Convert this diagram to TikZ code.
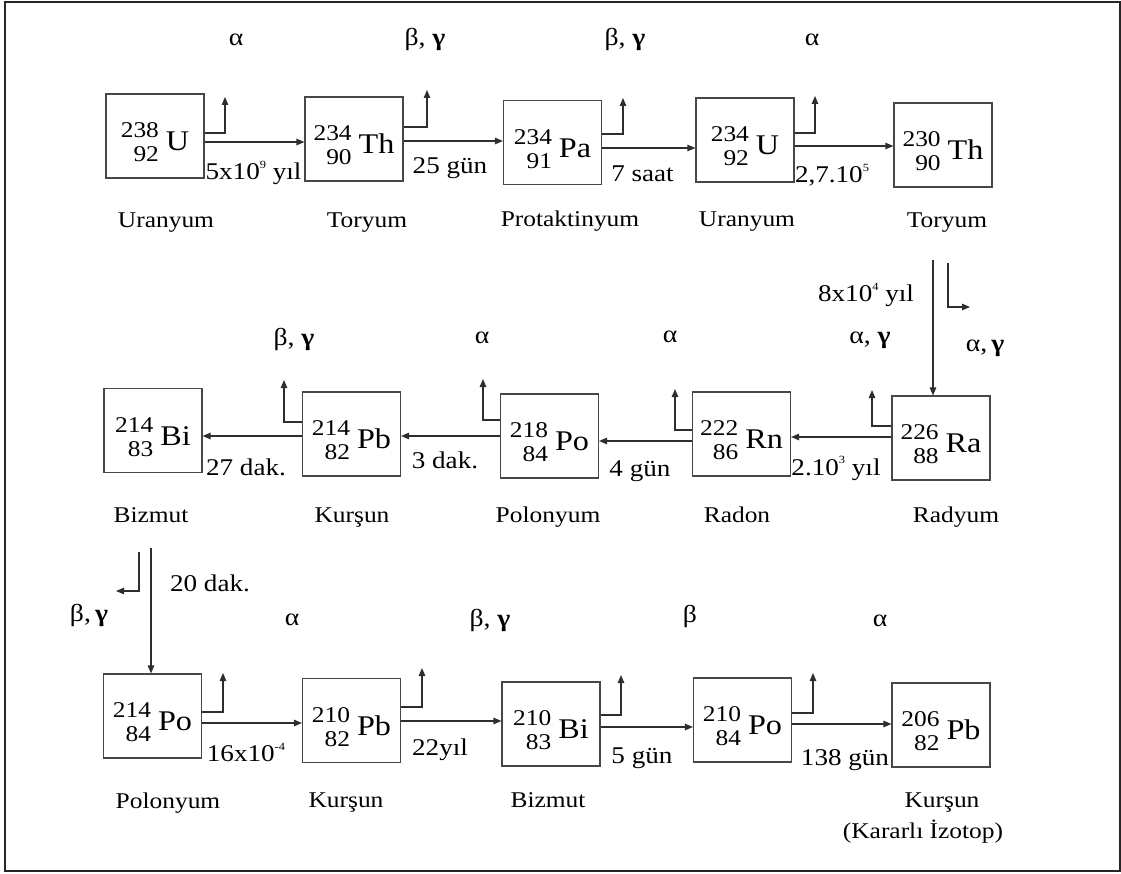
\documentclass[tikz,border=0pt]{standalone}
\usepackage{fontspec}
\setmainfont[FakeStretch=1.13]{Liberation Serif}
\usetikzlibrary{arrows.meta}
\newcommand\nuc[3]{\raisebox{-11pt}{\fontsize{22.5}{24}\selectfont\begin{tabular}[b]{@{}r@{}}#1\\#2\end{tabular}}\hspace{7pt}{\fontsize{28.5}{28}\selectfont #3}}
\newcommand\ssup[1]{\raisebox{1.0ex}{\fontsize{11}{11}\selectfont #1}}
\newcommand\bg{\textbf{γ}}
\tikzset{
  nucbox/.style={draw=black!72, line width=1.1pt, minimum width=98pt, minimum height=84pt, inner sep=0pt},
  nuctext/.style={inner sep=0pt},
  decay/.style={draw=black!82, line width=1.1pt, -{Triangle[length=8pt,width=6.5pt]}},
  tlabel/.style={font=\fontsize{24}{24}\selectfont, inner sep=0pt, anchor=base},
  elname/.style={font=\fontsize{22.5}{22.5}\selectfont, inner sep=0pt, anchor=base},
  rad/.style={font=\fontsize{24.5}{24}\selectfont, inner sep=0pt, anchor=base}
}
% \iso{name}{x}{y}{A}{Z}{symbol}
\newcommand\iso[6]{%
  \node[nucbox] (#1) at (#2,#3) {};
  \node[nuctext] (#1t) at ([yshift=-9pt]#1.center) {\nuc{#4}{#5}{#6}};
}
\begin{document}
\begin{tikzpicture}[x=1pt,y=-1pt]
\useasboundingbox (0,0) rectangle (1121,874);
\draw[line width=2pt, black!85] (5,2) rectangle (1119.5,871);

% ---------- row 1
\iso{u238}{155}{136}{238}{92}{U}
\iso{th234}{354}{139}{234}{90}{Th}
\iso{pa234}{552.5}{142.5}{234}{91}{Pa}
\iso{u234}{745}{140}{234}{92}{U}
\iso{th230}{943}{145}{230}{90}{Th}

\draw[decay] (u238.east |- 0,142) -- (th234.west |- 0,142);
\draw[decay] (th234.east |- 0,141) -- (pa234.west |- 0,141);
\draw[decay] (pa234.east |- 0,148) -- (u234.west |- 0,148);
\draw[decay] (u234.east |- 0,146) -- (th230.west |- 0,146);

\coordinate (e1) at (225,97);
\coordinate (e2) at (427,90);
\coordinate (e3) at (623,98);
\coordinate (e4) at (815,96);
\draw[decay] (u238.east |- 0,133) -| (e1);
\draw[decay] (th234.east |- 0,127) -| (e2);
\draw[decay] (pa234.east |- 0,134) -| (e3);
\draw[decay] (u234.east |- 0,133) -| (e4);

\node[rad] (r1) at (236,46) {α};
\node[rad] (r2) at (425,46) {β, \bg};
\node[rad] (r3) at (625,46) {β, \bg};
\node[rad] (r4) at (812,46) {α};

\node[tlabel] (t1) at (253.5,180) {5x10\ssup{9} yıl};
\node[tlabel] (t2) at (450,173.5) {25 gün};
\node[tlabel] (t3) at (642.5,181.5) {7 saat};
\node[tlabel] (t4) at (832,183) {2,7.10\ssup{5}};

\node[elname] (n1) at (166,227.5) {Uranyum};
\node[elname] (n2) at (367,227.5) {Toryum};
\node[elname] (n3) at (570,227) {Protaktinyum};
\node[elname] (n4) at (747,227) {Uranyum};
\node[elname] (n5) at (947,227.5) {Toryum};

% ---------- row 2
\iso{bi214}{153}{430.5}{214}{83}{Bi}
\iso{pb214}{351.5}{434}{214}{82}{Pb}
\iso{po218}{549.5}{436}{218}{84}{Po}
\iso{rn222}{741.5}{434}{222}{86}{Rn}
\iso{ra226}{941}{438}{226}{88}{Ra}

\coordinate (thdown) at (933,260);
\draw[decay] (thdown) -- (thdown |- ra226.north);
\coordinate (thg) at (948,263);
\coordinate (thgt) at (970,307);
\draw[decay] (thg) |- (thgt);
\node[tlabel] (t5) at (866,301.5) {8x10\ssup{4} yıl};
\node[rad] (r5) at (985,351.5) {α,\,\bg};

\draw[decay] (ra226.west |- 0,437) -- (rn222.east |- 0,437);
\draw[decay] (rn222.west |- 0,441) -- (po218.east |- 0,441);
\draw[decay] (po218.west |- 0,436) -- (pb214.east |- 0,436);
\draw[decay] (pb214.west |- 0,436) -- (bi214.east |- 0,436);

\coordinate (e5) at (872,390);
\coordinate (e6) at (675,389);
\coordinate (e7) at (483,379);
\coordinate (e8) at (284,380);
\draw[decay] (ra226.west |- 0,426) -| (e5);
\draw[decay] (rn222.west |- 0,430) -| (e6);
\draw[decay] (po218.west |- 0,420) -| (e7);
\draw[decay] (pb214.west |- 0,422) -| (e8);

\node[rad] (r6) at (870,343) {α, \bg};
\node[rad] (r7) at (670,342) {α};
\node[rad] (r8) at (482,343) {α};
\node[rad] (r9) at (294,345) {β, \bg};

\node[tlabel] (t6) at (836,475) {2.10\ssup{3} yıl};
\node[tlabel] (t7) at (640,476) {4 gün};
\node[tlabel] (t8) at (445,468.5) {3 dak.};
\node[tlabel] (t9) at (246,475) {27 dak.};

\node[elname] (n6) at (151,522) {Bizmut};
\node[elname] (n7) at (352,522) {Kurşun};
\node[elname] (n8) at (548,522) {Polonyum};
\node[elname] (n9) at (737,522.5) {Radon};
\node[elname] (n10) at (956,522.5) {Radyum};

% ---------- row 3
\iso{po214}{152.5}{716}{214}{84}{Po}
\iso{pb210}{351.5}{720.5}{210}{82}{Pb}
\iso{bi210}{551}{724}{210}{83}{Bi}
\iso{po210}{742.5}{720}{210}{84}{Po}
\iso{pb206}{941}{725}{206}{82}{Pb}

\coordinate (bidown) at (151,548);
\draw[decay] (bidown) -- (bidown |- po214.north);
\coordinate (big) at (139,552);
\coordinate (bigt) at (116,591);
\draw[decay] (big) |- (bigt);
\node[tlabel] (t10) at (210,591.5) {20 dak.};
\node[rad] (r10) at (89,621.5) {β,\,\bg};

\draw[decay] (po214.east |- 0,723) -- (pb210.west |- 0,723);
\draw[decay] (pb210.east |- 0,721) -- (bi210.west |- 0,721);
\draw[decay] (bi210.east |- 0,727) -- (po210.west |- 0,727);
\draw[decay] (po210.east |- 0,724) -- (pb206.west |- 0,724);

\coordinate (e9) at (223,673);
\coordinate (e10) at (422,668);
\coordinate (e11) at (621,675);
\coordinate (e12) at (813,673);
\draw[decay] (po214.east |- 0,712) -| (e9);
\draw[decay] (pb210.east |- 0,707) -| (e10);
\draw[decay] (bi210.east |- 0,715) -| (e11);
\draw[decay] (po210.east |- 0,713) -| (e12);

\node[rad] (r11) at (292,625) {α};
\node[rad] (r12) at (490,626.5) {β, \bg};
\node[rad] (r13) at (690,622) {β};
\node[rad] (r14) at (880,626.5) {α};

\node[tlabel] (t11) at (246,761.5) {16x10\ssup{-4}};
\node[tlabel] (t12) at (440,755) {22yıl};
\node[tlabel] (t13) at (642,763) {5 gün};
\node[tlabel] (t14) at (845,765) {138 gün};

\node[elname] (n11) at (168,808) {Polonyum};
\node[elname] (n12) at (346,807) {Kurşun};
\node[elname] (n13) at (548,807) {Bizmut};
\node[elname] (n14) at (942,807) {Kurşun};
\node[elname] (n15) at (923,838) {(Kararlı İzotop)};
\end{tikzpicture}
\end{document}
